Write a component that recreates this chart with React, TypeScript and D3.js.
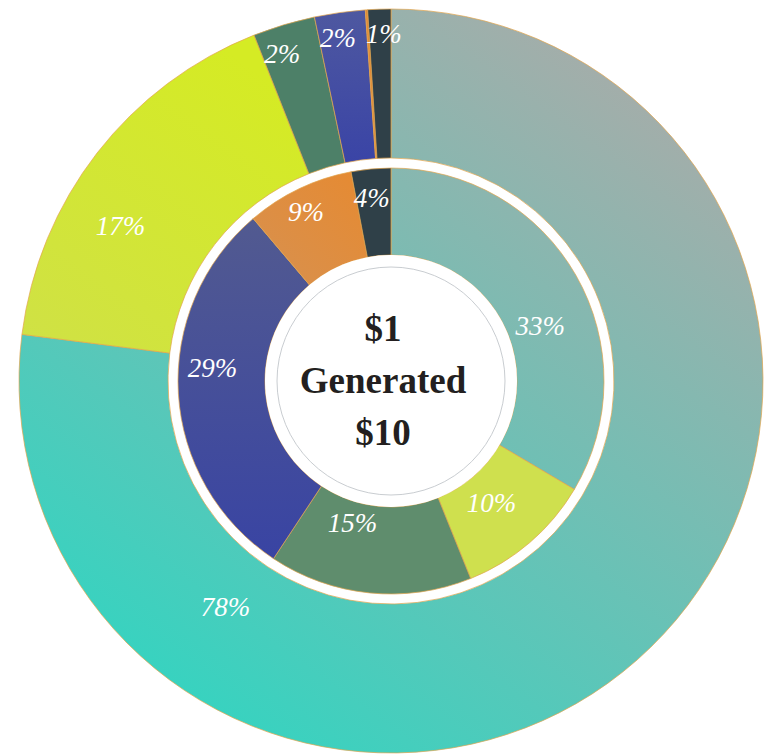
import * as d3 from "d3";

// outer ring, clockwise from 12 o'clock
const outerKeys = ["teal", "lime", "green", "blue", "orange", "slate"];
const outerValues = [77, 17, 2.7, 2.2, 0.1, 1.0];
const outerLabels = ["78%", "17%", "2%", "2%", "", "1%"];

// inner ring, clockwise from 12 o'clock
const innerKeys = ["teal", "lime", "green", "blue", "orange", "slate"];
const innerValues = [33.5, 10.4, 15.4, 29.5, 8.2, 3.0];
const innerLabels = ["33%", "10%", "15%", "29%", "9%", "4%"];

const centerLines = ["$1", "Generated", "$10"];

// where each label sits inside its slice: share of the slice's sweep, distance from centre
const outerLabelAt: [number, number][] = [[0.78, 280], [0.37, 312], [0.33, 345], [0.39, 347], [0.5, 340], [0.67, 347]];
const innerLabelAt: [number, number][] = [[0.58, 159], [0.53, 158], [0.67, 147], [0.57, 179], [0.46, 189], [0.44, 184]];

const W = 770;
const H = 755;
const cx = 391;
const cy = 381;

const outerRing = { inner: 223, outer: 372 };
const innerRing = { inner: 126, outer: 213 };

const fills: Record<string, Record<string, string>> = {
  outer: {
    teal: "url(#gTeal)",
    lime: "url(#gLime)",
    green: "#4d8068",
    blue: "url(#gBlueOuter)",
    orange: "#e08a38",
    slate: "#2f4048",
  },
  inner: {
    teal: "url(#gTeal)",
    lime: "#cfe04e",
    green: "#5f8d6d",
    blue: "url(#gBlueInner)",
    orange: "url(#gOrange)",
    slate: "#2f4048",
  },
};

function Ring({ values, keys, labels, at, radii, ring }: {
  values: number[];
  keys: string[];
  labels: string[];
  at: [number, number][];
  radii: { inner: number; outer: number };
  ring: "outer" | "inner";
}) {
  const pie = d3.pie<number>().sort(null).value(d => d);
  const arcs = pie(values);
  const arc = d3.arc<d3.PieArcDatum<number>>().innerRadius(radii.inner).outerRadius(radii.outer);

  return (
    <g>
      {arcs.map((a, i) => (
        <path
          key={keys[i]}
          d={arc(a) ?? ""}
          fill={fills[ring][keys[i]]}
          stroke="#e3a54c"
          strokeWidth={0.7}
        />
      ))}
      {arcs.map((a, i) => {
        if (!labels[i]) return null;
        const [f, r] = at[i];
        const ang = a.startAngle + f * (a.endAngle - a.startAngle);
        return (
          <text
            key={"t" + i}
            x={r * Math.sin(ang)}
            y={-r * Math.cos(ang)}
            textAnchor="middle"
            dominantBaseline="central"
            fill="#ffffff"
            fontStyle="italic"
            fontSize={27}
            fontFamily="'Liberation Serif', 'DejaVu Serif', serif"
          >
            {labels[i]}
          </text>
        );
      })}
    </g>
  );
}

export default function App() {
  return (
    <svg width={W} height={H} style={{ position: "absolute", left: 0, top: 0, background: "#fff" }}>
      <defs>
        <linearGradient id="gTeal" gradientUnits="userSpaceOnUse" x1={700} y1={0} x2={150} y2={760}>
          <stop offset="0" stopColor="#a8aca9" />
          <stop offset="1" stopColor="#22dac4" />
        </linearGradient>
        <linearGradient id="gLime" gradientUnits="userSpaceOnUse" x1={300} y1={0} x2={0} y2={420}>
          <stop offset="0" stopColor="#d5eb24" />
          <stop offset="1" stopColor="#cddd54" />
        </linearGradient>
        <linearGradient id="gBlueOuter" x1="0" y1="0" x2="0" y2="1">
          <stop offset="0" stopColor="#4e58a0" />
          <stop offset="1" stopColor="#3a44a6" />
        </linearGradient>
        <linearGradient id="gBlueInner" x1="0" y1="0" x2="0" y2="1">
          <stop offset="0" stopColor="#525a90" />
          <stop offset="1" stopColor="#3944a3" />
        </linearGradient>
        <linearGradient id="gOrange" x1="1" y1="0" x2="0" y2="1">
          <stop offset="0" stopColor="#e68a31" />
          <stop offset="1" stopColor="#d79150" />
        </linearGradient>
      </defs>
      <g transform={`translate(${cx},${cy})`}>
        <Ring values={outerValues} keys={outerKeys} labels={outerLabels} at={outerLabelAt} radii={outerRing} ring="outer" />
        <Ring values={innerValues} keys={innerKeys} labels={innerLabels} at={innerLabelAt} radii={innerRing} ring="inner" />
        <circle r={innerRing.inner} fill="#ffffff" />
        <circle r={114} fill="none" stroke="#c9cdd1" strokeWidth={1} />
        {centerLines.map((t, i) => (
          <text
            key={t}
            x={-8}
            y={(i - 1) * 52 - 1}
            textAnchor="middle"
            dominantBaseline="central"
            fill="#231f20"
            fontWeight="bold"
            fontSize={37}
            fontFamily="'Liberation Serif', 'DejaVu Serif', serif"
          >
            {t}
          </text>
        ))}
      </g>
    </svg>
  );
}
